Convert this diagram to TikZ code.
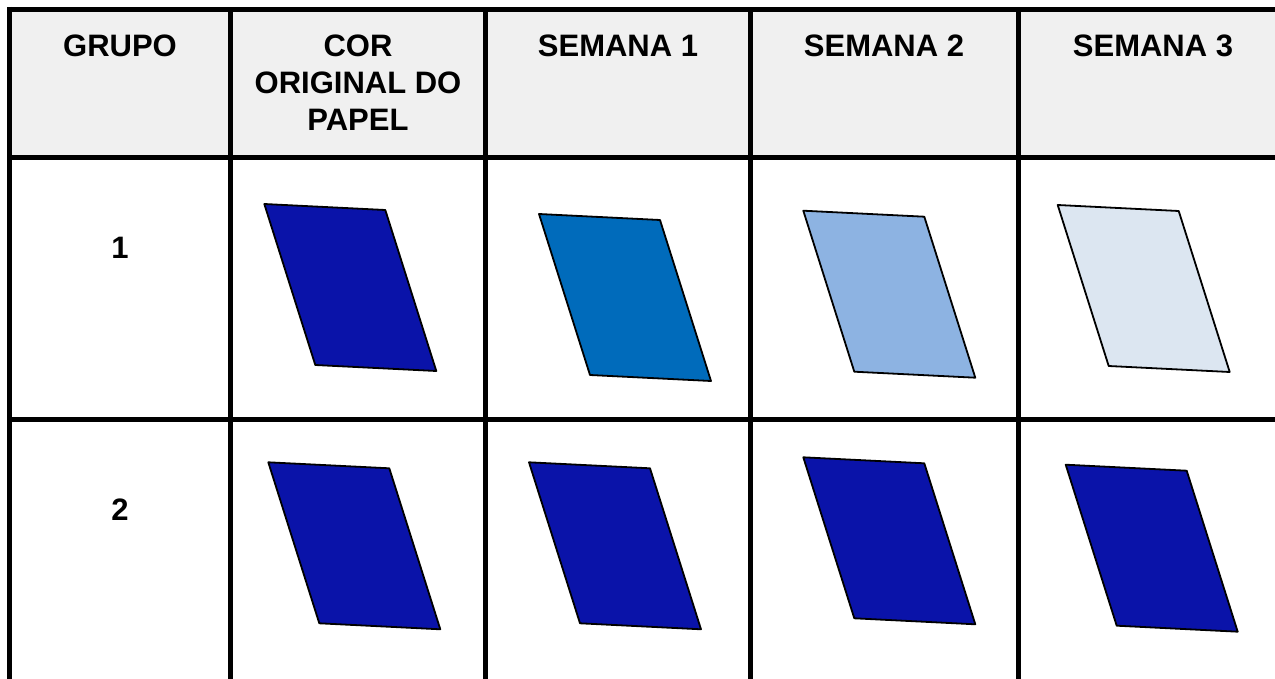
\documentclass[tikz,border=0pt]{standalone}
\usepackage{fontspec}
\setmainfont{Liberation Sans}
\usetikzlibrary{positioning}
\definecolor{cabecalho}{HTML}{F0F0F0}
\definecolor{azulescuro}{HTML}{0A13A9}
\definecolor{azulmedio}{HTML}{006BBB}
\definecolor{azulclaro}{HTML}{8DB3E2}
\definecolor{azulpalido}{HTML}{DCE6F1}

\begin{document}
\begin{tikzpicture}[
		x=1pt, y=-1pt,
		grade/.style={line width=5pt},
		titulo/.style={font=\fontsize{31}{37}\selectfont\bfseries, inner sep=0pt, anchor=base, align=center},
		papel/.style={draw=black, line width=1.8pt, line join=round}
	]
	\useasboundingbox (0,0) rectangle (1275,679);

	% cabecalho
	\fill[cabecalho] (9.5,9.5) rectangle (1290,158);

	\node[titulo] (grupo) at (120,57) {GRUPO};
	\node[titulo] (cor) at (358,131) {COR\\ORIGINAL DO\\PAPEL};
	\node[titulo] (sem1) at (618,57) {SEMANA 1};
	\node[titulo] (sem2) at (884,57) {SEMANA 2};
	\node[titulo] (sem3) at (1153,57) {SEMANA 3};

	\node[titulo] (g1) at (120,259) {1};
	\node[titulo] (g2) at (120,520) {2};

	% grade
	\draw[grade] (7,9.5) -- (1290,9.5);
	\draw[grade] (9.5,158) -- (1290,158);
	\draw[grade] (9.5,419) -- (1290,419);
	\draw[grade] (9.5,7) -- (9.5,690);
	\draw[grade] (230.5,9.5) -- (230.5,690);
	\draw[grade] (485.5,9.5) -- (485.5,690);
	\draw[grade] (750.5,9.5) -- (750.5,690);
	\draw[grade] (1018,9.5) -- (1018,690);

	% grupo 1
	\filldraw[papel, fill=azulescuro] (264.3,204) -- ++(121,6) -- ++(51,161) -- ++(-121,-6) -- cycle;
	\filldraw[papel, fill=azulmedio] (539,214) -- ++(121,6) -- ++(51,161) -- ++(-121,-6) -- cycle;
	\filldraw[papel, fill=azulclaro] (803.3,210.7) -- ++(121,6) -- ++(51,161) -- ++(-121,-6) -- cycle;
	\filldraw[papel, fill=azulpalido] (1057.7,205) -- ++(121,6) -- ++(51,161) -- ++(-121,-6) -- cycle;

	% grupo 2
	\filldraw[papel, fill=azulescuro] (268.3,462.3) -- ++(121,6) -- ++(51,161) -- ++(-121,-6) -- cycle;
	\filldraw[papel, fill=azulescuro] (529,462.3) -- ++(121,6) -- ++(51,161) -- ++(-121,-6) -- cycle;
	\filldraw[papel, fill=azulescuro] (803.3,457.3) -- ++(121,6) -- ++(51,161) -- ++(-121,-6) -- cycle;
	\filldraw[papel, fill=azulescuro] (1065.7,464.7) -- ++(121,6) -- ++(51,161) -- ++(-121,-6) -- cycle;
\end{tikzpicture}
\end{document}
